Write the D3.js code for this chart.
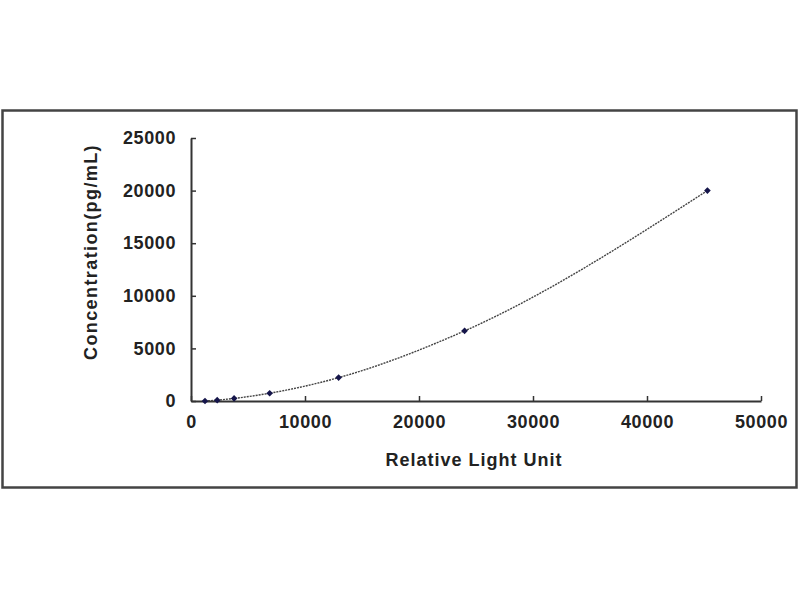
<!DOCTYPE html>
<html><head><meta charset="utf-8">
<script src="https://cdn.jsdelivr.net/npm/d3@7"></script>
<style>body{margin:0;background:#fff}svg{display:block}text{font-family:"Liberation Sans",Arial,sans-serif;font-weight:bold;fill:#222}</style>
</head><body><svg id="c" width="800" height="600"></svg>
<script>
const rlu = [1228, 2300, 3780, 6900, 12950, 24000, 45300];
const conc = [0, 82.3, 246.9, 740.7, 2222.2, 6666.7, 20000];
const xTicks = [0, 10000, 20000, 30000, 40000, 50000];
const yTicks = [0, 5000, 10000, 15000, 20000, 25000];
const xTitle = "Relative Light Unit";
const yTitle = "Concentration(pg/mL)";

const svg = d3.select("#c");
svg.append("rect").attr("x",2.5).attr("y",110.5).attr("width",794).attr("height",377)
  .attr("fill","#fff").attr("stroke","#444").attr("stroke-width",2.5);

const x = d3.scaleLinear().domain([0,50000]).range([191,761]);
const y = d3.scaleLinear().domain([0,25000]).range([401,138]);

const xAxis = svg.append("g").attr("transform","translate(0,401)")
  .call(d3.axisBottom(x).tickValues(xTicks).tickSizeInner(-5).tickSizeOuter(0).tickPadding(14).tickFormat(d3.format("d")));
const yAxis = svg.append("g").attr("transform","translate(191,0)")
  .call(d3.axisLeft(y).tickValues(yTicks).tickSizeInner(-5).tickSizeOuter(0).tickPadding(15).tickFormat(d3.format("d")));
[xAxis,yAxis].forEach(a=>{
  a.select(".domain").attr("stroke","#333").attr("stroke-width",2);
  a.selectAll(".tick line").attr("stroke","#333").attr("stroke-width",1.5);
  a.selectAll("text").attr("font-size",18).attr("font-family","Liberation Sans, Arial, sans-serif").attr("font-weight","bold").attr("fill","#222").attr("letter-spacing","0.6px");
});

const pts = rlu.map((v,i)=>[v,conc[i]]);
svg.append("path").datum(pts)
  .attr("d", d3.line().x(d=>x(d[0])).y(d=>y(d[1])).curve(d3.curveMonotoneX))
  .attr("fill","none").attr("stroke","#444").attr("stroke-width",1.4).attr("stroke-dasharray","2,1");

svg.selectAll(".pt").data(pts).enter().append("path")
  .attr("class","pt")
  .attr("transform",d=>`translate(${x(d[0])},${y(d[1])}) rotate(45)`)
  .attr("d", d3.symbol().type(d3.symbolSquare).size(22))
  .attr("fill","#15154a");

svg.append("text").attr("x",474).attr("y",466).attr("text-anchor","middle")
  .attr("font-size",18).attr("letter-spacing","1px").text(xTitle);
svg.append("text").attr("transform","translate(97,252) rotate(-90)").attr("text-anchor","middle")
  .attr("font-size",18).attr("letter-spacing","1.4px").text(yTitle);
</script></body></html>
